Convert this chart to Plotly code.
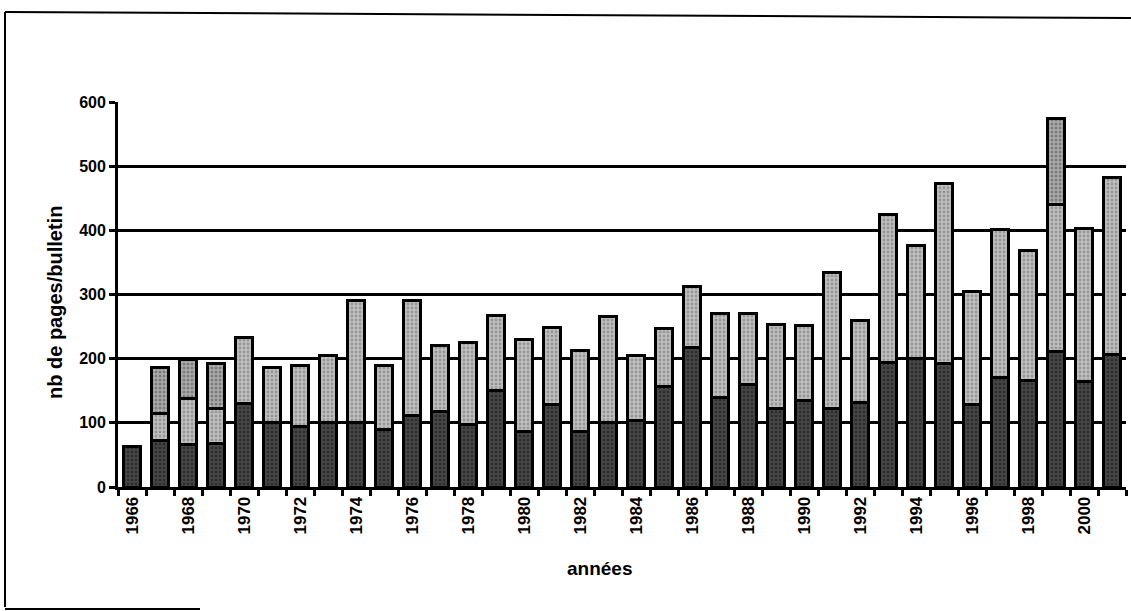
import plotly.graph_objects as go

years = list(range(1966, 2002))
# lower (dark) segment, middle segment and upper segment
bottom = [63, 73, 66, 68, 130, 100, 94, 101, 101, 89, 112, 117, 98, 151, 86, 128, 86, 101,
          104, 156, 217, 139, 159, 123, 135, 122, 132, 194, 201, 193, 128, 170, 166, 211, 165, 206]
middle = [0, 42, 72, 54, 103, 86, 96, 104, 190, 101, 179, 103, 127, 117, 144, 120, 126, 165,
          101, 91, 96, 131, 111, 131, 117, 212, 127, 231, 175, 280, 177, 231, 203, 229, 238, 276]
top = [0, 72, 61, 71, 0, 0, 0, 0, 0, 0, 0, 0, 0, 0, 0, 0, 0, 0,
       0, 0, 0, 0, 0, 0, 0, 0, 0, 0, 0, 0, 0, 0, 0, 134, 0, 0]
yticks = [0, 100, 200, 300, 400, 500, 600]
xlabel_years = list(range(1966, 2001, 2))

W, H = 1131, 611
L, R, T, B = 118, 5, 102, 124
pw = W - L - R
ph = H - T - B


def px_x(p):
    return (p - L) / pw


def px_y(p):
    return (H - B - p) / ph


fig = go.Figure()
outline = dict(color="black", width=3)
fig.add_trace(go.Bar(x=years, y=bottom, name="a",
                     marker=dict(color="#363636", line=outline,
                                 pattern=dict(shape=".", fgcolor="#111111", bgcolor="#454545",
                                              size=4, solidity=0.35))))
fig.add_trace(go.Bar(x=years, y=middle, name="b",
                     marker=dict(color="#b0b0b0", line=outline,
                                 pattern=dict(shape=".", fgcolor="#6a6a6a", bgcolor="#c0c0c0",
                                              size=4, solidity=0.4))))
fig.add_trace(go.Bar(x=years, y=top, name="c",
                     marker=dict(color="#a0a0a0", line=outline,
                                 pattern=dict(shape=".", fgcolor="#4a4a4a", bgcolor="#acacac",
                                              size=4, solidity=0.45))))

FAM = "Liberation Sans, Arial, sans-serif"
font_x = dict(family=FAM, size=17, color="black", weight="bold")
font_y = dict(family=FAM, size=16, color="black", weight="bold")

fig.update_layout(
    width=W, height=H,
    margin=dict(l=L, r=R, t=T, b=B),
    barmode="stack",
    bargap=0.36,
    showlegend=False,
    plot_bgcolor="white",
    paper_bgcolor="white",
    font=dict(family=FAM, color="black"),
    xaxis=dict(
        range=[1965.5, 2001.5],
        tickvals=xlabel_years,
        ticktext=[str(y) for y in xlabel_years],
        tickangle=-90,
        ticks="",
        tickfont=font_x,
        showgrid=False,
        showline=True, linecolor="black", linewidth=2.8,
        minor=dict(tickvals=[y + 0.5 for y in range(1965, 2002)], ticks="outside",
                   ticklen=6, tickwidth=2.5, tickcolor="black", showgrid=False),
        zeroline=False,
    ),
    yaxis=dict(
        range=[0, 600],
        tickvals=yticks,
        ticks="outside", ticklen=6, tickwidth=2.5, tickcolor="black",
        tickfont=font_y,
        showgrid=True, gridcolor="black", gridwidth=2.6,
        showline=True, linecolor="black", linewidth=2.8,
        zeroline=False,
    ),
    annotations=[
        dict(text="années", xref="paper", yref="paper", x=px_x(599), y=px_y(568),
             showarrow=False, xanchor="center", yanchor="middle",
             font=dict(family=FAM, size=19, color="black", weight="bold")),
        dict(text="nb de pages/bulletin", xref="paper", yref="paper", x=px_x(55), y=px_y(303),
             showarrow=False, xanchor="center", yanchor="middle", textangle=-90,
             font=dict(family=FAM, size=20, color="black", weight="bold")),
    ],
    shapes=[
        dict(type="line", xref="paper", yref="paper", x0=px_x(5), x1=px_x(5),
             y0=px_y(12), y1=px_y(607), line=dict(color="black", width=2)),
        dict(type="line", xref="paper", yref="paper", x0=px_x(5), x1=px_x(1131),
             y0=px_y(12), y1=px_y(18), line=dict(color="black", width=2)),
        dict(type="line", xref="paper", yref="paper", x0=px_x(5), x1=px_x(200),
             y0=px_y(609), y1=px_y(609), line=dict(color="black", width=2)),
    ],
)

fig.write_html("out.html", config={"displayModeBar": False},
               post_script="document.body.style.margin='0';")
